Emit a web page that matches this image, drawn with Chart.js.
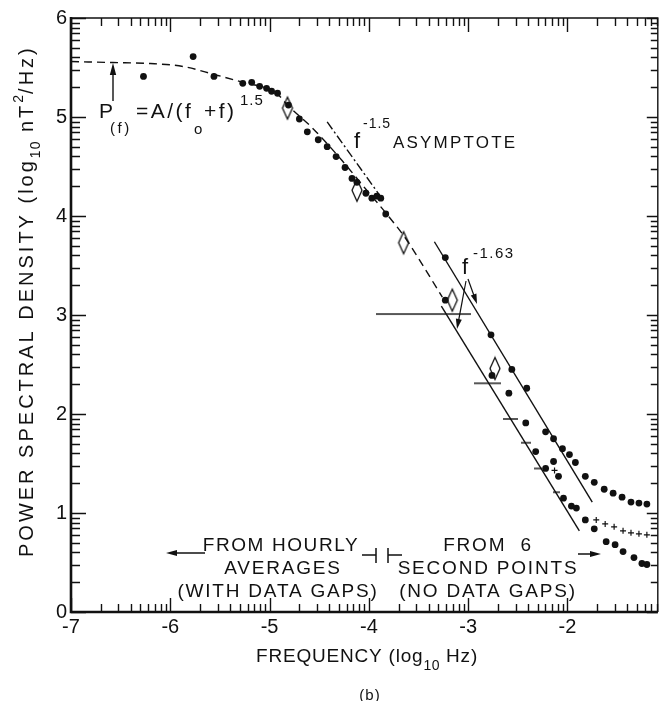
<!DOCTYPE html>
<html>
<head>
<meta charset="utf-8">
<script src="https://cdn.jsdelivr.net/npm/chart.js@4.4.1/dist/chart.umd.min.js"></script>
<style>
  html, body { margin: 0; padding: 0; background: #fff; }
  #wrap { width: 663px; height: 701px; position: relative; }
</style>
</head>
<body>
<div id="wrap"><canvas id="psd"></canvas></div>
<script>
const xTicks = [-7, -6, -5, -4, -3, -2];
const yTicks = [0, 1, 2, 3, 4, 5, 6];

// hourly averages (dots)
const hourlyX = [-6.27, -5.77, -5.56, -5.27, -5.18, -5.10, -5.03, -4.98, -4.92, -4.81, -4.70, -4.62, -4.51, -4.42, -4.33, -4.24, -4.17, -4.12, -4.03, -3.97, -3.92, -3.88, -3.83, -3.23];
const hourlyY = [5.41, 5.61, 5.41, 5.34, 5.35, 5.31, 5.29, 5.26, 5.24, 5.12, 4.98, 4.85, 4.77, 4.70, 4.60, 4.49, 4.38, 4.34, 4.23, 4.18, 4.20, 4.18, 4.02, 3.15];

// open diamonds
const diamondX = [-4.82, -4.12, -3.65, -3.16, -2.73];
const diamondY = [5.09, 4.26, 3.73, 3.15, 2.46];

// 6 second points, upper set
const upperX = [-3.23, -2.77, -2.56, -2.41, -2.22, -2.14, -2.05, -1.98, -1.92, -1.82, -1.73, -1.63, -1.54, -1.45, -1.36, -1.28, -1.20];
const upperY = [3.58, 2.80, 2.45, 2.26, 1.82, 1.75, 1.65, 1.59, 1.51, 1.37, 1.31, 1.24, 1.20, 1.16, 1.11, 1.10, 1.09];

// 6 second points, lower set
const lowerX = [-2.76, -2.59, -2.42, -2.32, -2.22, -2.14, -2.09, -2.04, -1.96, -1.91, -1.82, -1.73, -1.61, -1.52, -1.44, -1.33, -1.25, -1.20];
const lowerY = [2.39, 2.21, 1.91, 1.62, 1.45, 1.52, 1.37, 1.15, 1.07, 1.05, 0.93, 0.84, 0.71, 0.68, 0.61, 0.55, 0.49, 0.48];

// crosses
const crossX = [-2.13, -1.71, -1.62, -1.53, -1.44, -1.36, -1.28, -1.20];
const crossY = [1.43, 0.93, 0.89, 0.86, 0.82, 0.80, 0.79, 0.78];

// horizontal bars
const barX = [-3.45, -2.81, -2.57, -2.42, -2.30, -2.11];
const barY = [3.01, 2.31, 1.95, 1.71, 1.45, 1.21];
const barHalf = [47.5, 13.5, 7.5, 5, 4, 3.5];

// P(f) = A/(f0+f)^1.5 curve
const modelX = [-7.00, -6.58, -6.20, -5.87, -5.56, -5.27, -4.93, -4.82, -4.57, -4.27, -4.03, -3.82, -3.62, -3.45, -3.26];
const modelY = [5.56, 5.55, 5.54, 5.51, 5.43, 5.35, 5.24, 5.12, 4.89, 4.56, 4.27, 4.02, 3.76, 3.49, 3.18];

// f^-1.5 asymptote
const asymX = [-4.42, -3.87];
const asymY = [4.95, 4.18];

// f^-1.63 fits
const fitUpX = [-3.34, -1.75];
const fitUpY = [3.74, 1.11];
const fitLoX = [-3.27, -1.88];
const fitLoY = [3.09, 0.82];

const FONT = '"Liberation Sans", Arial, Helvetica, sans-serif';
const INK = '#111';

const zip = (xs, ys) => xs.map((x, i) => ({ x: x, y: ys[i] }));

function diamondImg() {
  const c = document.createElement('canvas');
  c.width = 14; c.height = 26;
  const g = c.getContext('2d');
  g.strokeStyle = INK; g.lineWidth = 1.3;
  g.beginPath();
  g.moveTo(7, 2); g.lineTo(12, 13); g.lineTo(7, 24); g.lineTo(2, 13); g.closePath();
  g.stroke();
  return c;
}

// horizontal bar marker of a given half width
function barImg(half) {
  const c = document.createElement('canvas');
  c.width = Math.round(half * 2); c.height = 4;
  const g = c.getContext('2d');
  g.fillStyle = INK;
  g.fillRect(0, 1.3, c.width, 1.4);
  return c;
}

function txt(ctx, x, y, parts) {
  let cx = x;
  for (const [t, size, dy, ls] of parts) {
    ctx.font = size + 'px ' + FONT;
    ctx.letterSpacing = (ls == null ? 2 : ls) + 'px';
    ctx.fillText(t, cx, y + (dy || 0));
    cx += ctx.measureText(t).width;
  }
  return cx - x;
}

function txtCenter(ctx, cx, y, parts) {
  let w = 0;
  for (const [t, size, dy, ls] of parts) {
    ctx.font = size + 'px ' + FONT;
    ctx.letterSpacing = (ls == null ? 2 : ls) + 'px';
    w += ctx.measureText(t).width;
  }
  txt(ctx, cx - w / 2, y, parts);
}

function arrow(ctx, x1, y1, x2, y2, len, half) {
  const a = Math.atan2(y2 - y1, x2 - x1);
  ctx.beginPath();
  ctx.moveTo(x1, y1);
  ctx.lineTo(x2 - Math.cos(a) * len * 0.8, y2 - Math.sin(a) * len * 0.8);
  ctx.stroke();
  ctx.beginPath();
  ctx.moveTo(x2, y2);
  ctx.lineTo(x2 - Math.cos(a) * len - Math.sin(a) * half, y2 - Math.sin(a) * len + Math.cos(a) * half);
  ctx.lineTo(x2 - Math.cos(a) * len + Math.sin(a) * half, y2 - Math.sin(a) * len - Math.cos(a) * half);
  ctx.closePath();
  ctx.fill();
}

// tick positions inside each unit: d + log10(k)
const logSteps = [1, 2, 3, 4, 5, 6, 7, 8, 9].map(k => Math.log10(k));

const frame = {
  id: 'frame',
  afterDraw(chart) {
    const ctx = chart.ctx;
    const a = chart.chartArea;
    const x = chart.scales.x, y = chart.scales.y;
    const x0 = x.min, x1 = x.max, y0 = y.min, y1 = y.max;
    const L = a.left, R = a.right, T = a.top, B = a.bottom;
    const xp = v => L + (v - x0) / (x1 - x0) * (R - L);
    const yp = v => B - (v - y0) / (y1 - y0) * (B - T);

    ctx.save();
    ctx.setLineDash([]);
    ctx.strokeStyle = INK;
    ctx.fillStyle = INK;

    // inward log-spaced ticks on all four sides
    ctx.lineWidth = 1.4;
    ctx.beginPath();
    for (let d = -7; d <= -2; d++) {
      logSteps.forEach((s, i) => {
        const v = d + s;
        if (v > x1) return;
        const px = Math.round(xp(v)) + 0.5;
        const len = i === 0 ? 14 : 8;
        ctx.moveTo(px, B); ctx.lineTo(px, B - len);
        ctx.moveTo(px, T); ctx.lineTo(px, T + len);
      });
    }
    for (let d = 0; d <= 6; d++) {
      logSteps.forEach((s, i) => {
        const v = d + s;
        if (v > y1) return;
        const py = Math.round(yp(v)) + 0.5;
        ctx.moveTo(L, py); ctx.lineTo(L + (i === 0 ? 15 : 9), py);
        ctx.moveTo(R, py); ctx.lineTo(R - (i === 0 ? 11 : 7), py);
      });
    }
    ctx.stroke();

    // box
    ctx.beginPath();
    ctx.moveTo(L, T); ctx.lineTo(R, T); ctx.lineTo(R, B);
    ctx.stroke();
    ctx.lineWidth = 2.6;
    ctx.beginPath();
    ctx.moveTo(L, T - 1); ctx.lineTo(L, B); ctx.lineTo(R, B);
    ctx.stroke();

    // axis titles
    ctx.textBaseline = 'alphabetic';
    ctx.textAlign = 'left';
    txt(ctx, 256, 662, [['FREQUENCY (log', 19, 0, 0.8], ['10', 14, 8, 0.5], [' Hz)', 19, 0, 0.8]]);
    ctx.save();
    ctx.translate(33, 557);
    ctx.rotate(-Math.PI / 2);
    txt(ctx, 0, 0, [['POWER SPECTRAL DENSITY (log', 20, 0, 3], ['10', 14, 7, 1], [' nT', 20, 0, 3], ['2', 14, -10, 1], ['/Hz)', 20, 0, 3]]);
    ctx.restore();

    // caption
    txtCenter(ctx, 370, 700, [['(b)', 15, 0, 1]]);

    // P(f) formula
    txt(ctx, 99, 118, [['P', 21, 0, 2]]);
    txt(ctx, 110, 133, [['(f)', 15, 0, 2.5]]);
    txt(ctx, 136, 118, [['=A/(f', 21, 0, 2.5]]);
    txt(ctx, 194, 134, [['o', 15, 0, 1]]);
    txt(ctx, 204, 118, [['+f)', 21, 0, 2.5]]);
    txt(ctx, 240, 105, [['1.5', 15, 0, 1]]);
    ctx.lineWidth = 1.4;
    arrow(ctx, 113, 101, 113, 63, 12, 3.2);

    // asymptote label
    txt(ctx, 354, 148, [['f', 22, 0, 1]]);
    txt(ctx, 363, 128, [['-1.5', 14, 0, 1]]);
    txt(ctx, 393, 148, [['ASYMPTOTE', 17, 0, 2.2]]);

    // f^-1.63 label and arrows
    txt(ctx, 462, 274, [['f', 22, 0, 1]]);
    txt(ctx, 473, 258, [['-1.63', 15, 0, 1.5]]);
    ctx.lineWidth = 1.2;
    arrow(ctx, 468, 279, 477, 304, 10, 3);
    arrow(ctx, 466, 281, 457, 329, 10, 3);

    // bottom annotations
    txtCenter(ctx, 281, 551, [['FROM HOURLY', 19, 0, 1.6]]);
    txtCenter(ctx, 283, 574, [['AVERAGES', 19, 0, 1.8]]);
    txtCenter(ctx, 278, 597, [['(WITH DATA GAPS)', 19, 0, 1.8]]);
    txtCenter(ctx, 488, 551, [['FROM  6', 19, 0, 1.8]]);
    txtCenter(ctx, 488, 574, [['SECOND POINTS', 19, 0, 1.8]]);
    txtCenter(ctx, 488, 597, [['(NO DATA GAPS)', 19, 0, 1.8]]);
    ctx.lineWidth = 1.5;
    arrow(ctx, 205, 553, 166, 553, 11, 3);
    arrow(ctx, 578, 554, 601, 554, 11, 3);
    ctx.beginPath();
    ctx.moveTo(362, 555); ctx.lineTo(376, 555);
    ctx.moveTo(376, 548); ctx.lineTo(376, 563);
    ctx.moveTo(388, 548); ctx.lineTo(388, 563);
    ctx.moveTo(388, 555); ctx.lineTo(402, 555);
    ctx.stroke();

    ctx.restore();
  }
};

const dot = { showLine: false, pointRadius: 3.4, pointBackgroundColor: INK, pointBorderColor: INK, pointBorderWidth: 0 };
const thinLine = { showLine: true, pointRadius: 0, borderColor: INK, borderWidth: 1.4, fill: false };

new Chart(document.getElementById('psd'), {
  type: 'scatter',
  data: {
    datasets: [
      Object.assign({ label: 'P(f) model', data: zip(modelX, modelY), borderDash: [8, 5], cubicInterpolationMode: 'monotone' }, thinLine),
      Object.assign({ label: 'f^-1.5 asymptote', data: zip(asymX, asymY), borderDash: [9, 3, 2, 3] }, thinLine),
      Object.assign({ label: 'f^-1.63 upper', data: zip(fitUpX, fitUpY) }, thinLine),
      Object.assign({ label: 'f^-1.63 lower', data: zip(fitLoX, fitLoY) }, thinLine),
      Object.assign({ label: 'hourly', data: zip(hourlyX, hourlyY) }, dot),
      Object.assign({ label: '6 s upper', data: zip(upperX, upperY) }, dot),
      Object.assign({ label: '6 s lower', data: zip(lowerX, lowerY) }, dot),
      { label: 'crosses', data: zip(crossX, crossY), showLine: false, pointStyle: 'cross', pointRadius: 3, pointBorderColor: INK, pointBorderWidth: 1.2 },
      { label: 'bars', data: zip(barX, barY), showLine: false, pointStyle: barHalf.map(barImg), pointRadius: 1, pointBorderWidth: 0 },
      { label: 'diamonds', data: zip(diamondX, diamondY), showLine: false, pointStyle: diamondImg(), pointRadius: 1, pointBorderWidth: 0 }
    ]
  },
  options: {
    responsive: true,
    maintainAspectRatio: false,
    animation: false,
    events: [],
    layout: { padding: { top: 18, right: 1, left: 0, bottom: 0 } },
    plugins: { legend: { display: false }, tooltip: { enabled: false } },
    scales: {
      x: {
        type: 'linear', min: -7, max: -1.09,
        grid: { display: false, drawTicks: false },
        border: { display: false },
        afterBuildTicks: s => { s.ticks = xTicks.map(v => ({ value: v })); },
        afterFit: s => { s.height = 89; },
        ticks: { padding: 3, color: INK, font: { family: FONT, size: 20 }, maxRotation: 0, callback: v => String(v) }
      },
      y: {
        type: 'linear', min: 0, max: 6,
        grid: { display: false, drawTicks: false },
        border: { display: false },
        afterBuildTicks: s => { s.ticks = yTicks.map(v => ({ value: v })); },
        afterFit: s => { s.width = 71; },
        ticks: { padding: 4, color: INK, font: { family: FONT, size: 20 }, callback: v => String(v) }
      }
    }
  },
  plugins: [frame]
});
</script>
</body>
</html>
